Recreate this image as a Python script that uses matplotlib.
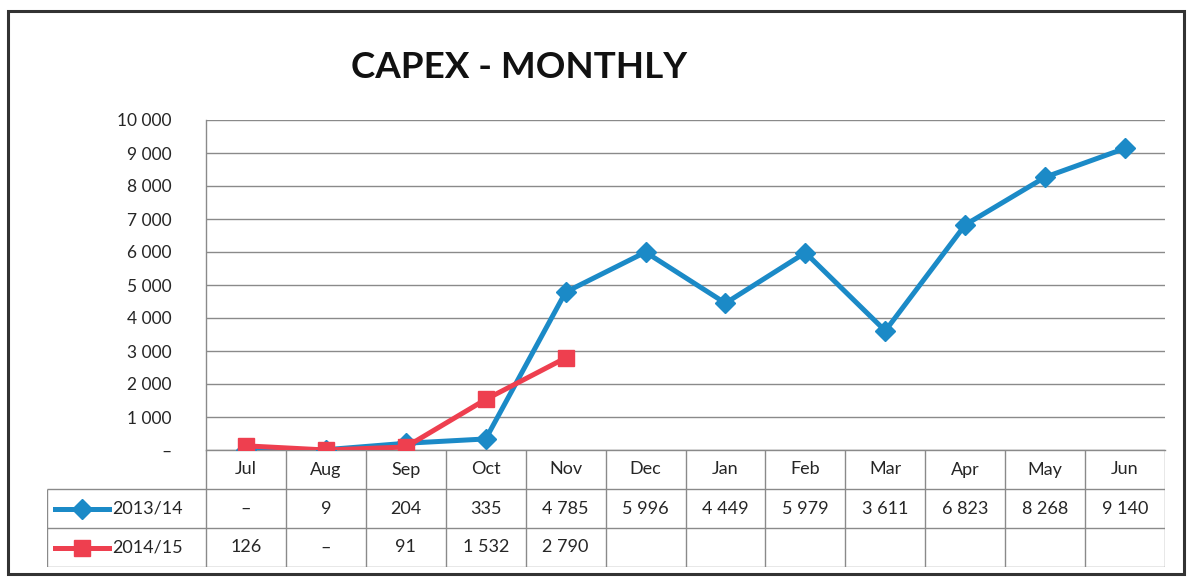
import matplotlib
matplotlib.use("Agg")
from matplotlib import pyplot as plt
from matplotlib.patches import Rectangle
import numpy as np

plt.rcParams['font.family'] = ['Lato', 'DejaVu Sans']

months = ["Jul", "Aug", "Sep", "Oct", "Nov", "Dec",
          "Jan", "Feb", "Mar", "Apr", "May", "Jun"]
fy1314 = [0, 9, 204, 335, 4785, 5996, 4449, 5979, 3611, 6823, 8268, 9140]
fy1415 = [126, 0, 91, 1532, 2790]
series_names = ["2013/14", "2014/15"]
y_ticks = [0, 1000, 2000, 3000, 4000, 5000, 6000, 7000, 8000, 9000, 10000]

blue = "#1b8ac7"
red = "#ee3f4f"
grid_col = "#8a8a8a"
txt_col = "#262626"

W, H = 1191, 579
fig = plt.figure(figsize=(W / 100, H / 100), dpi=100)


def fx(px):
    return px / W


def fy(py):
    return 1 - py / H


def fmt(v):
    if v == 0:
        return "\u2013"
    return "{:,}".format(v).replace(",", " ")


# frame around the whole chart
fig.patches.append(Rectangle((fx(8), fy(574)), fx(1184) - fx(8), fy(11) - fy(574),
                             transform=fig.transFigure, fill=False,
                             edgecolor="#333333", linewidth=2.2))

left, right, top, bottom = 206, 1165, 120, 450
ax = fig.add_axes([fx(left), fy(bottom), fx(right) - fx(left), fy(top) - fy(bottom)])
x = np.arange(len(months))
ax.plot(x, fy1314, color=blue, lw=3.6, marker="D", ms=10, zorder=3)
ax.plot(x[:len(fy1415)], fy1415, color=red, lw=3.6, marker="s", ms=12, zorder=4)
ax.set_xlim(-0.5, len(months) - 0.5)
ax.set_ylim(0, 10000)
ax.set_yticks(y_ticks)
ax.set_yticklabels([fmt(v) for v in y_ticks], fontsize=12.5, color=txt_col)
ax.set_xticks([])
ax.tick_params(axis="y", length=0, pad=25)
ax.grid(axis="y", color=grid_col, lw=1)
ax.set_axisbelow(True)
for s in ["top", "right"]:
    ax.spines[s].set_visible(False)
for s in ["left", "bottom"]:
    ax.spines[s].set_color(grid_col)
    ax.spines[s].set_linewidth(1)

fig.text(fx(519), fy(68), "CAPEX - MONTHLY", fontsize=26.5, fontweight="bold",
         ha="center", va="center", color="#111111")

# data table under the plot
tleft, tbottom = 47, 567
legw = (left - tleft) / ((right - left) / len(months))
tax = fig.add_axes([fx(tleft), fy(tbottom), fx(right) - fx(tleft), fy(bottom) - fy(tbottom)])
tax.set_xlim(-0.5 - legw, len(months) - 0.5)
tax.set_ylim(3, 0)
tax.axis("off")
lkw = dict(color=grid_col, lw=1, solid_capstyle="butt")
for k in range(len(months) + 1):
    tax.plot([k - 0.5, k - 0.5], [0, 3], **lkw)
tax.plot([-0.5 - legw, -0.5 - legw], [1, 3], **lkw)
for r in [1, 2, 3]:
    tax.plot([-0.5 - legw, len(months) - 0.5], [r, r], **lkw)

for i, m in enumerate(months):
    tax.text(i, 0.5, m, ha="center", va="center", fontsize=13, color=txt_col)
rows = [fy1314, fy1415]
cols = [blue, red]
marks = ["D", "s"]
for r, (vals, c, mk, name) in enumerate(zip(rows, cols, marks, series_names)):
    yc = r + 1.5
    for i, v in enumerate(vals):
        tax.text(i, yc, fmt(v), ha="center", va="center", fontsize=13, color=txt_col)
    x0 = -0.5 - legw + 0.1
    tax.plot([x0, x0 + 0.68], [yc, yc], color=c, lw=3.6)
    tax.plot([x0 + 0.34], [yc], color=c, marker=mk, ms=10 if mk == "D" else 12)
    tax.text(x0 + 0.72, yc, name, ha="left", va="center", fontsize=13, color=txt_col)

fig.savefig("out.png", dpi=100)
